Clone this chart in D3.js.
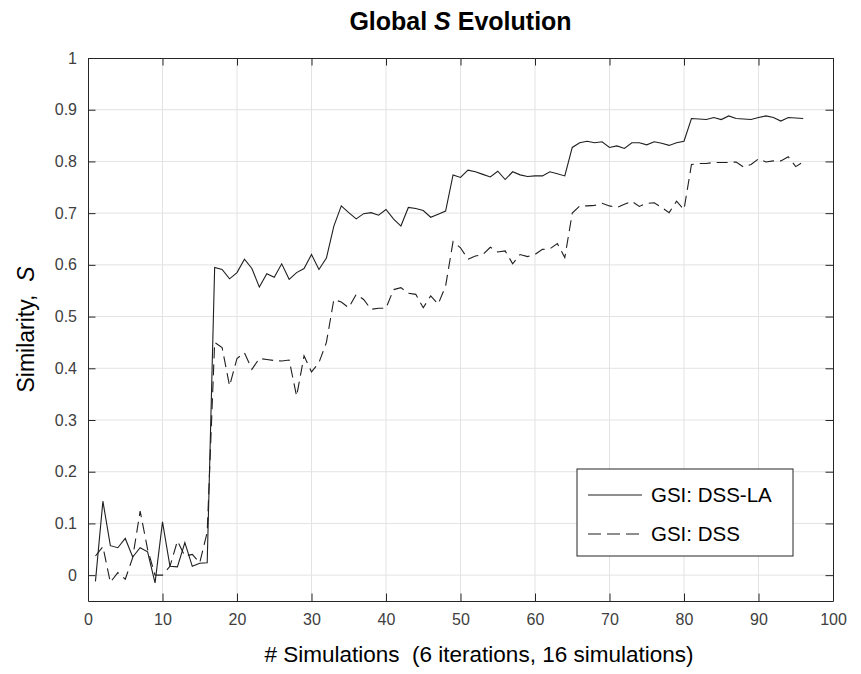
<!DOCTYPE html>
<meta charset="utf-8">
<script src="https://d3js.org/d3.v7.min.js"></script>
<style>
  body { margin: 0; background: #fff; }
  svg { font-family: "Liberation Sans", Arial, sans-serif; }
</style>
<div id="chart"></div>
<script>
// similarity per simulation, simulations 1..96
var gsiDssLa = [
  -0.012, 0.143, 0.057, 0.053, 0.071, 0.035, 0.053, 0.045, -0.015, 0.103, 0.017, 0.016, 0.063, 0.017, 0.023, 0.024,
  0.595, 0.591, 0.573, 0.585, 0.611, 0.593, 0.557, 0.583, 0.576, 0.602, 0.572, 0.585, 0.593, 0.620, 0.591, 0.613,
  0.675, 0.714, 0.701, 0.689, 0.699, 0.701, 0.696, 0.707, 0.689, 0.675, 0.711, 0.709, 0.705, 0.692, 0.698, 0.704,
  0.774, 0.769, 0.783, 0.780, 0.775, 0.770, 0.781, 0.765, 0.780, 0.774, 0.771, 0.772, 0.772, 0.780, 0.776, 0.772,
  0.827, 0.836, 0.839, 0.836, 0.838, 0.827, 0.830, 0.825, 0.836, 0.836, 0.832, 0.838, 0.835, 0.831, 0.836, 0.839,
  0.883, 0.882, 0.881, 0.885, 0.881, 0.888, 0.883, 0.882, 0.881, 0.885, 0.888, 0.885, 0.878, 0.885, 0.884, 0.883
];
var gsiDss = [
  0.037, 0.055, -0.014, 0.005, -0.008, 0.034, 0.124, 0.050, 0.000, 0.000, 0.017, 0.066, 0.037, 0.040, 0.024, 0.083,
  0.450, 0.440, 0.366, 0.419, 0.430, 0.398, 0.419, 0.417, 0.415, 0.414, 0.416, 0.346, 0.424, 0.393, 0.411, 0.450,
  0.533, 0.528, 0.517, 0.543, 0.533, 0.514, 0.516, 0.516, 0.552, 0.556, 0.545, 0.543, 0.517, 0.540, 0.524, 0.559,
  0.645, 0.633, 0.611, 0.617, 0.620, 0.634, 0.625, 0.627, 0.602, 0.620, 0.616, 0.620, 0.630, 0.631, 0.641, 0.614,
  0.700, 0.714, 0.714, 0.715, 0.719, 0.714, 0.711, 0.717, 0.723, 0.713, 0.719, 0.720, 0.711, 0.701, 0.723, 0.707,
  0.794, 0.796, 0.796, 0.798, 0.798, 0.798, 0.799, 0.789, 0.794, 0.805, 0.799, 0.801, 0.801, 0.809, 0.790, 0.799
];
var seriesNames = ["GSI: DSS-LA", "GSI: DSS"];
var xTicks = [0, 10, 20, 30, 40, 50, 60, 70, 80, 90, 100];
var yTicks = [0, 0.1, 0.2, 0.3, 0.4, 0.5, 0.6, 0.7, 0.8, 0.9, 1];

var W = 861, H = 674;
var margin = {top: 58, right: 28, bottom: 73, left: 88};
var w = W - margin.left - margin.right,
    h = H - margin.top - margin.bottom;

var svg = d3.select("#chart").append("svg")
    .attr("width", W)
    .attr("height", H);

var g = svg.append("g")
    .attr("transform", "translate(" + margin.left + "," + margin.top + ")");

var x = d3.scaleLinear().domain([0, 100]).range([0, w]);
var y = d3.scaleLinear().domain([-0.05, 1]).range([h, 0]);

// grid
g.append("g").selectAll("line").data(xTicks.slice(1, -1)).enter().append("line")
    .attr("x1", d => x(d)).attr("x2", d => x(d))
    .attr("y1", 0).attr("y2", h)
    .attr("stroke", "#e3e3e3");
g.append("g").selectAll("line").data(yTicks.slice(0, -1)).enter().append("line")
    .attr("y1", d => y(d)).attr("y2", d => y(d))
    .attr("x1", 0).attr("x2", w)
    .attr("stroke", "#e3e3e3");

// axes with inward ticks, box style
function styleAxis(sel) {
  sel.select(".domain").attr("stroke", "#262626");
  sel.selectAll(".tick line").attr("stroke", "#262626");
  sel.selectAll("text").attr("fill", "#404040").style("font-size", "16px");
}
g.append("g").attr("transform", "translate(0," + h + ")")
  .call(d3.axisBottom(x).tickValues(xTicks).tickSizeInner(-7.5).tickSizeOuter(0).tickPadding(13))
  .call(styleAxis);
g.append("g")
  .call(d3.axisTop(x).tickValues(xTicks).tickSizeInner(-7.5).tickSizeOuter(0).tickFormat(""))
  .call(styleAxis);
g.append("g")
  .call(d3.axisLeft(y).tickValues(yTicks).tickSizeInner(-7.5).tickSizeOuter(0).tickPadding(11)
    .tickFormat(d3.format("")))
  .call(styleAxis);
g.append("g").attr("transform", "translate(" + w + ",0)")
  .call(d3.axisRight(y).tickValues(yTicks).tickSizeInner(-7.5).tickSizeOuter(0).tickFormat(""))
  .call(styleAxis);

// lines
var line = d3.line().x((d, i) => x(i + 1)).y(d => y(d));
g.append("path").datum(gsiDssLa)
    .attr("fill", "none").attr("stroke", "#1f1f1f").attr("stroke-width", 1.1)
    .attr("d", line);
g.append("path").datum(gsiDss)
    .attr("fill", "none").attr("stroke", "#1f1f1f").attr("stroke-width", 1.1)
    .attr("stroke-dasharray", "11,6")
    .attr("d", line);

// legend
var lg = svg.append("g").attr("transform", "translate(577,469)");
lg.append("rect").attr("width", 216).attr("height", 87)
    .attr("fill", "#fff").attr("stroke", "#262626").attr("stroke-width", 1);
seriesNames.forEach(function(name, i) {
  var yy = 26 + i * 39;
  lg.append("line").attr("x1", 11).attr("x2", 65).attr("y1", yy).attr("y2", yy)
    .attr("stroke", "#1f1f1f").attr("stroke-width", 1.1)
    .attr("stroke-dasharray", i === 1 ? "13,6" : null);
  lg.append("text").attr("x", 74).attr("y", yy).attr("dy", "0.35em")
    .style("font-size", "20.5px").attr("fill", "#000").text(name);
});

// title and labels
var title = svg.append("text")
    .attr("x", margin.left + w / 2).attr("y", 30)
    .attr("text-anchor", "middle")
    .style("font-size", "25px").style("font-weight", "bold").attr("fill", "#000");
title.append("tspan").text("Global ");
title.append("tspan").style("font-style", "italic").text("S");
title.append("tspan").text(" Evolution");

svg.append("text")
    .attr("x", 479).attr("y", 662)
    .attr("text-anchor", "middle")
    .style("font-size", "22.5px").style("white-space", "pre").attr("fill", "#000")
    .text("# Simulations  (6 iterations, 16 simulations)");

var yl = svg.append("text")
    .attr("transform", "translate(34," + (margin.top + h / 2) + ") rotate(-90)")
    .attr("text-anchor", "middle")
    .style("font-size", "23px").style("white-space", "pre").attr("fill", "#000");
yl.append("tspan").text("Similarity,  ");
yl.append("tspan").style("font-style", "italic").text("S");
</script>
